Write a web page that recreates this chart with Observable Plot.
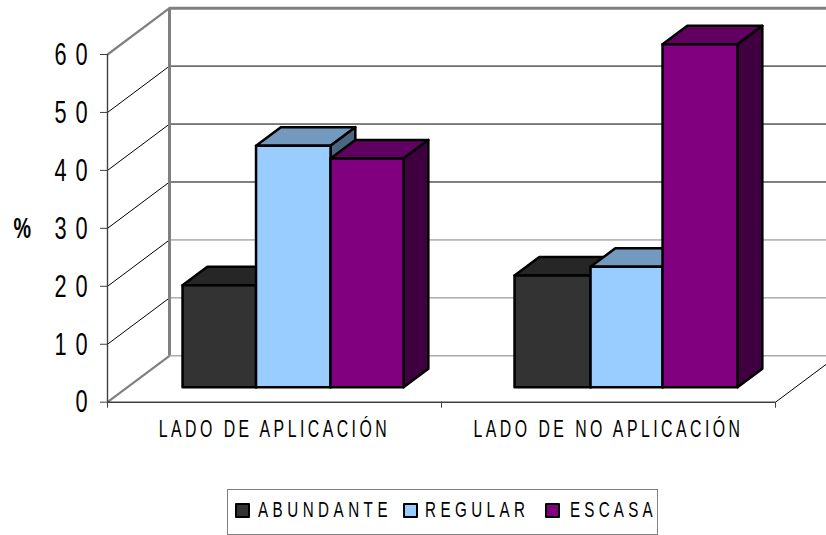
<!DOCTYPE html>
<html><head><meta charset="utf-8">
<script src="https://cdn.jsdelivr.net/npm/d3@7"></script>
<script src="https://cdn.jsdelivr.net/npm/@observablehq/plot@0.6"></script>
<style>
html,body{margin:0;padding:0;background:#fff;overflow:hidden}
svg text{font-family:"Liberation Sans",Arial,sans-serif;fill:#000}
.ytick text{letter-spacing:13px}
.cat text{letter-spacing:5px}
#legend{position:relative;box-sizing:border-box;margin-left:227px;width:431px;height:46px;border:1px solid #808080;background:#fff}
#legend i{position:absolute;top:13px;width:11px;height:11px;border:2px solid #000;border-radius:1px}
#legend span{position:absolute;top:8px;font:22px/24px "Liberation Sans",sans-serif;white-space:nowrap;transform:scaleX(.69);transform-origin:left center}
</style></head><body>
<div id="chart"></div><div id="legend"></div>
<script>
const categories = ["LADO DE APLICACIÓN", "LADO DE NO APLICACIÓN"];
const seriesNames = ["ABUNDANTE", "REGULAR", "ESCASA"];
const abundante = [17.6, 19.3];
const regular = [41.7, 20.8];
const escasa = [39.5, 59.2];
const yTicks = [0, 10, 20, 30, 40, 50, 60];
const frontColors = ["#333333", "#99ccff", "#800080"];
const topColors = ["#262626", "#7399bf", "#600060"];
const sideColors = ["#1a1a1a", "#4d6680", "#400040"];
const values = [abundante, regular, escasa];

// chart-space: u runs along the category axis, d is depth (0 front, 1 back wall)
const U = 668, catW = U / 2, DX = 62, DY = 8.0;
const barEdges = [[55.2, 128.7, 203.2, 276.2], [387.2, 463.2, 535.2, 610.2]], d0 = 0.32, d1 = 0.72;
const P = (u, v, d) => ({x: u + d * DX, y: v + d * DY});

const faces = [];
const addFace = (id, fill, pts) => pts.forEach(p => faces.push({id, fill, ...P(...p)}));
categories.forEach((c, ci) => {
  values.forEach((vals, si) => {
    const a = barEdges[ci][si], b = barEdges[ci][si + 1], v = vals[ci], k = `${ci}-${si}`;
    addFace(k + "t", topColors[si], [[a, v, d0], [b, v, d0], [b, v, d1], [a, v, d1]]);
    addFace(k + "s", sideColors[si], [[b, 0, d0], [b, v, d0], [b, v, d1], [b, 0, d1]]);
    addFace(k + "f", frontColors[si], [[a, 0, d0], [b, 0, d0], [b, v, d0], [a, v, d0]]);
  });
});

const squeeze = f => (index, scales, vals, dims, ctx, next) => {
  const g = next(index, scales, vals, dims, ctx);
  g.querySelectorAll("text").forEach(t => {
    t.setAttribute("transform", (t.getAttribute("transform") || "") + ` scale(${f},1)`);
  });
  return g;
};

const gridColor = v => v <= 20 ? "#808080" : "#000";
const thin = yTicks.filter(v => v > 0 && v < 60);

const chart = Plot.plot({
  width: 826, height: 489,
  marginLeft: 107, marginRight: 51, marginTop: 54, marginBottom: 87.3,
  x: {domain: [0, U], range: [107, 775], axis: null},
  y: {domain: [0, 60], range: [401.7, 54], axis: null},
  color: {type: "identity"},
  marks: [
    // back wall gridlines
    Plot.ruleY(thin, {x1: DX, x2: U + DX, y: v => v + DY, stroke: gridColor, strokeWidth: 1}),
    Plot.ruleY([0], {x1: DX, x2: U + DX, y: v => v + DY, stroke: "#808080", strokeWidth: 1}),
    // side wall gridlines
    Plot.link(thin, {x1: () => 0, x2: () => DX, y1: v => v, y2: v => v + DY, stroke: "#000", strokeWidth: 1}),
    // floor right edge
    Plot.link([0], {x1: () => U, x2: () => U + DX, y1: v => v, y2: v => v + DY, stroke: "#000", strokeWidth: 1}),
    // heavy gray wall edges
    Plot.ruleX([DX], {y1: DY, y2: 60 + DY, stroke: "#808080", strokeWidth: 3}),
    Plot.ruleY([60 + DY], {x1: DX, x2: U + DX, stroke: "#808080", strokeWidth: 3}),
    Plot.link([0, 60], {x1: () => 0, x2: () => DX, y1: v => v, y2: v => v + DY, stroke: "#808080", strokeWidth: 2.2}),
    // axes
    Plot.ruleX([0], {y1: 0, y2: 60, stroke: "#404040", strokeWidth: 1.4}),
    Plot.ruleY([0], {x1: 0, x2: U, stroke: "#404040", strokeWidth: 1.4}),
    Plot.axisY({ticks: yTicks, anchor: "left", tickSize: 7, tickPadding: 4, fontSize: 32, label: null,
      stroke: "#404040", tickFormat: d => String(d), className: "ytick", render: squeeze(0.68)}),
    Plot.axisX({ticks: [0, catW, U], anchor: "bottom", tickSize: 6, label: null, tickFormat: () => "", stroke: "#404040"}),
    // bars
    Plot.line(faces, {x: "x", y: "y", z: "id", fill: "fill", stroke: "#000", strokeWidth: 2.5, curve: "linear-closed"}),
    // category labels
    Plot.text(categories, {x: (d, i) => catW * (i + 0.5), y: () => 0, dy: 27, text: d => d, fontSize: 23,
      className: "cat", render: squeeze(0.69)}),
    Plot.text(["%"], {frameAnchor: "left", dx: -94, y: () => 30, text: d => d, fontSize: 29, fontWeight: "bold", textAnchor: "start", render: squeeze(0.68)})
  ]
});
document.getElementById("chart").appendChild(chart);

const legend = document.getElementById("legend");
const swatchX = [7, 175, 317], textX = [30, 197, 342], spacing = [6.5, 6.4, 6.1];
seriesNames.forEach((n, i) => {
  const s = document.createElement("i");
  s.style.left = swatchX[i] + "px"; s.style.background = frontColors[i];
  const t = document.createElement("span");
  t.textContent = n; t.style.left = textX[i] + "px"; t.style.letterSpacing = spacing[i] + "px";
  legend.append(s, t);
});
</script></body></html>
